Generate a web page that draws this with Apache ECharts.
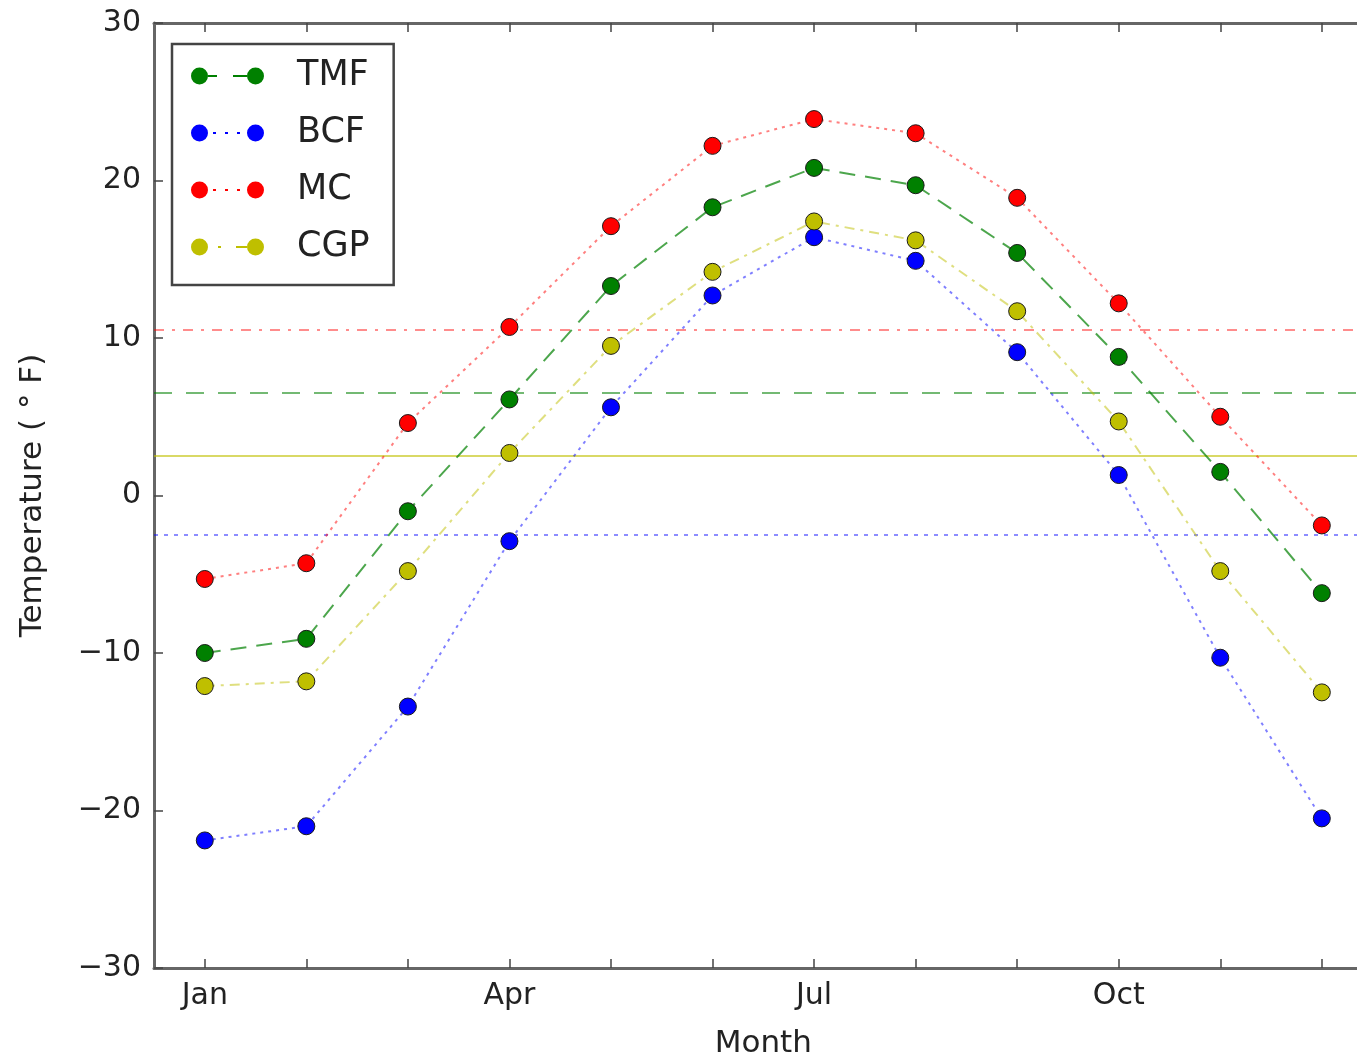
<!DOCTYPE html>
<html>
<head>
<meta charset="utf-8">
<script src="https://cdn.jsdelivr.net/npm/echarts@6/dist/echarts.min.js"></script>
<style>html,body{margin:0;padding:0;background:#fff;overflow:hidden;}#c{width:1380px;height:1061px;}</style>
</head>
<body>
<div id="c"></div>
<script>
const months = ['Jan','Feb','Mar','Apr','May','Jun','Jul','Aug','Sep','Oct','Nov','Dec'];
const tmf = [-10.0,-9.1,-1.0,6.1,13.3,18.3,20.8,19.7,15.4,8.8,1.5,-6.2];
const bcf = [-21.9,-21.0,-13.4,-2.9,5.6,12.7,16.4,14.9,9.1,1.3,-10.3,-20.5];
const mc  = [-5.3,-4.3,4.6,10.7,17.1,22.2,23.9,23.0,18.9,12.2,5.0,-1.9];
const cgp = [-12.1,-11.8,-4.8,2.7,9.5,14.2,17.4,16.2,11.7,4.7,-4.8,-12.5];
const seriesNames = ['TMF','BCF','MC','CGP'];
const meanTmf = 6.5, meanBcf = -2.5, meanMc = 10.5, meanCgp = 2.5;
const yTicks = [-30,-20,-10,0,10,20,30];

const FONT = 'DejaVu Sans';
const circ = (cx) => `M${cx-8.5},8.5 a8.5,8.5 0 1,0 17,0 a8.5,8.5 0 1,0 -17,0 Z `;
const icons = {
  TMF: 'path://' + circ(8.5) + circ(64.5) + 'M17,7.5 h9 v2 h-9 Z M42,7.5 h14 v2 h-14 Z',
  BCF: 'path://' + circ(8.5) + circ(64.5) + 'M22,7.5 h3 v2 h-3 Z M34,7.5 h3 v2 h-3 Z M46,7.5 h3 v2 h-3 Z',
  MC:  'path://' + circ(8.5) + circ(64.5) + 'M22,7.5 h3 v2 h-3 Z M34,7.5 h3 v2 h-3 Z M46,7.5 h3 v2 h-3 Z',
  CGP: 'path://' + circ(8.5) + circ(64.5) + 'M27,7.5 h3 v2 h-3 Z M45,7.5 h11 v2 h-11 Z'
};

function mk(name, data, color, lineType, lineOpacity, meanVal, meanType, meanOpacity) {
  return {
    name, type: 'line', data,
    symbol: 'circle', symbolSize: 17,
    itemStyle: { color, borderColor: '#1a1a1a', borderWidth: 1 },
    lineStyle: { color, width: 2, type: lineType, opacity: lineOpacity },
    z: 5,
    markLine: {
      silent: true, symbol: 'none', label: { show: false }, animation: false,
      lineStyle: { color, width: 2, type: meanType, opacity: meanOpacity },
      data: [{ yAxis: meanVal }],
      z: 2
    }
  };
}

const chart = echarts.init(document.getElementById('c'));
chart.setOption({
  animation: false,
  backgroundColor: '#fff',
  grid: { left: 154, top: 23, width: 1218.6, height: 945, containLabel: false, outerBoundsMode: 'none' },
  legend: {
    orient: 'vertical', left: 172, top: 44,
    data: seriesNames.map(n => ({ name: n, icon: icons[n] })),
    itemWidth: 73, itemHeight: 17, itemGap: 21,
    itemStyle: { borderWidth: 0 },
    padding: [14, 24, 20, 19],
    borderColor: '#444', borderWidth: 2.5,
    textStyle: { fontFamily: FONT, fontSize: 35, color: '#222', lineHeight: 36, padding: [0,0,0,28] },
    selectedMode: false
  },
  xAxis: [{
    type: 'category', data: months, boundaryGap: true, position: 'bottom',
    axisLine: { onZero: false, lineStyle: { color: '#666', width: 3 } },
    axisTick: { show: true, inside: true, alignWithLabel: true, interval: 0, length: 9, lineStyle: { color: '#444', width: 1.5 } },
    axisLabel: { interval: 2, margin: 13, fontFamily: FONT, fontSize: 30, color: '#222' },
    splitLine: { show: false },
    name: 'Month', nameLocation: 'middle', nameGap: 60,
    nameTextStyle: { fontFamily: FONT, fontSize: 31, color: '#222' }
  }, {
    type: 'category', data: months, boundaryGap: true, position: 'top',
    axisLine: { onZero: false, lineStyle: { color: '#666', width: 3 } },
    axisTick: { show: true, inside: true, alignWithLabel: true, interval: 0, length: 9, lineStyle: { color: '#444', width: 1.5 } },
    axisLabel: { show: false }, splitLine: { show: false }
  }],
  yAxis: [{
    type: 'value', min: yTicks[0], max: yTicks[yTicks.length-1], interval: 10,
    axisLine: { show: true, onZero: false, lineStyle: { color: '#666', width: 3 } },
    axisTick: { show: true, inside: true, length: 9, lineStyle: { color: '#444', width: 1.5 } },
    axisLabel: { margin: 13, fontFamily: FONT, fontSize: 30, color: '#222',
      formatter: v => String(v).replace('-', '\u2212') },
    splitLine: { show: false },
    name: 'Temperature ( \u00b0 F)', nameLocation: 'middle', nameGap: 106,
    nameTextStyle: { fontFamily: FONT, fontSize: 31, color: '#222' }
  }],
  series: [
    mk('TMF', tmf, '#008000', [16, 10], 0.7, meanTmf, [18, 14], 0.55),
    mk('BCF', bcf, '#0000ff', [3, 5], 0.5, meanBcf, [4, 6], 0.45),
    mk('MC',  mc,  '#ff0000', [3, 5], 0.5, meanMc, [10, 8, 3, 8], 0.45),
    mk('CGP', cgp, '#bfbf00', [10, 6, 3, 6], 0.5, meanCgp, 'solid', 0.6)
  ]
});
</script>
</body>
</html>
